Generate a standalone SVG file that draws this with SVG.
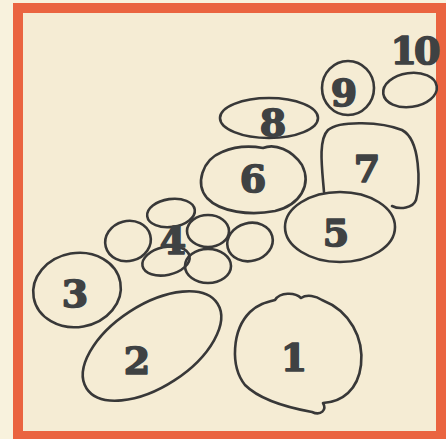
<svg xmlns="http://www.w3.org/2000/svg" width="446" height="439" viewBox="0 0 446 439">
<style>
.s{fill:none;stroke:#383838;stroke-width:2.6;stroke-linejoin:round;stroke-linecap:round}
.t{font-family:"DejaVu Serif","Liberation Serif",serif;font-weight:bold;font-size:38px;fill:#3f4243;stroke:#3f4243;stroke-width:1.6;stroke-linejoin:round;text-anchor:middle}
</style>
<rect x="0" y="0" width="446" height="439" fill="#f8f2dd"/>
<rect x="18" y="8" width="423" height="428" fill="#f5ecd4" stroke="#ea6440" stroke-width="10"/>
<g id="n1"><path class="s" d="M275 300 C280 292 295 292 301 298 C307 294 316 296 322 300 C350 311 364 338 361 365 C358 390 342 402 323 403 C327 410 321 416 312 412 C290 408 260 400 245 385 C230 366 232 330 250 312 C258 304 267 302 275 300 Z"/><text class="t" x="294" y="371">1</text></g>
<g id="n2"><ellipse class="s" cx="152" cy="346" rx="78" ry="41" transform="rotate(-33 152 346)"/><text class="t" x="137" y="374">2</text></g>
<g id="n3"><ellipse class="s" cx="77" cy="290" rx="44" ry="37" transform="rotate(-10 77 290)"/><text class="t" x="75" y="307">3</text></g>
<g id="n4">
<ellipse class="s" cx="171" cy="213" rx="24" ry="14" transform="rotate(-8 171 213)"/>
<ellipse class="s" cx="128" cy="241" rx="23" ry="20" transform="rotate(-15 128 241)"/>
<ellipse class="s" cx="208" cy="231" rx="21" ry="16"/>
<ellipse class="s" cx="250" cy="242" rx="23" ry="19" transform="rotate(-15 250 242)"/>
<ellipse class="s" cx="166" cy="261" rx="24" ry="14" transform="rotate(-12 166 261)"/>
<ellipse class="s" cx="208" cy="266" rx="23" ry="17"/>
<text class="t" x="173" y="254">4</text></g>
<g id="n5"><ellipse class="s" cx="340" cy="227" rx="55" ry="35"/><text class="t" x="336" y="246">5</text></g>
<g id="n6"><path class="s" d="M263 148 C275 143 292 150 302 165 C312 185 300 205 275 211 C250 216 220 212 207 198 C195 184 202 160 222 152 C236 146 252 146 263 148 Z"/><text class="t" x="253" y="192">6</text></g>
<g id="n7"><path class="s" d="M324 192 C322 168 318 140 328 130 C340 120 382 122 402 130 C421 140 420 185 416 200 C413 208 400 210 392 206"/><text class="t" x="367" y="182">7</text></g>
<g id="n8"><ellipse class="s" cx="269" cy="118" rx="49" ry="20"/><text class="t" x="273" y="136">8</text></g>
<g id="n9"><ellipse class="s" cx="348" cy="88" rx="26" ry="27"/><text class="t" x="344" y="106">9</text></g>
<g id="n10"><ellipse class="s" cx="410" cy="90" rx="27" ry="17" transform="rotate(-8 410 90)"/><text class="t" x="414" y="64" style="letter-spacing:-3px">10</text></g>
<g id="connectors"/>
</svg>
